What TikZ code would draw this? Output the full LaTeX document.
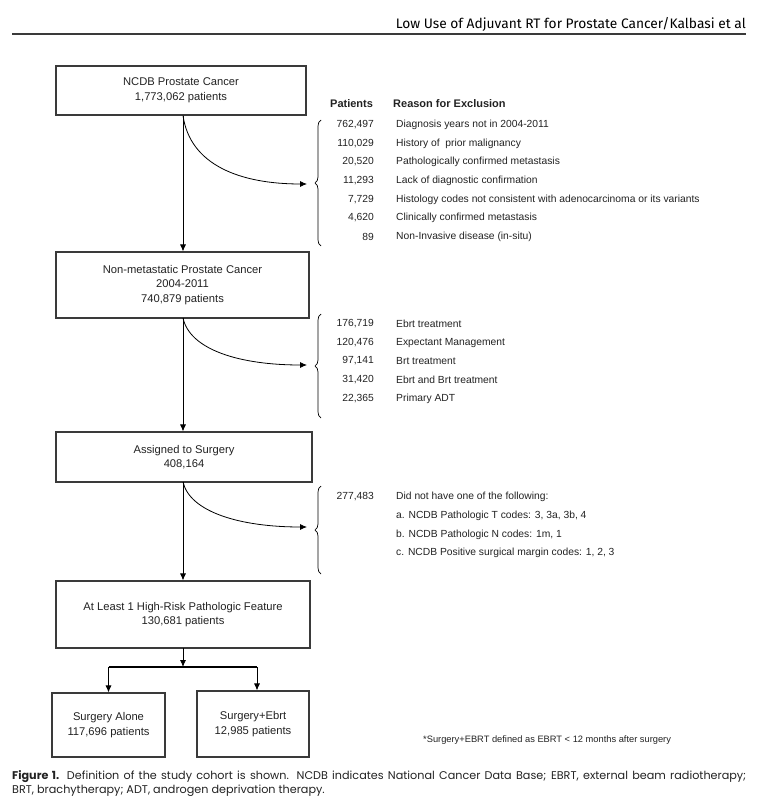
\documentclass[tikz,border=0pt]{standalone}
\usepackage{fontspec}
\setmainfont{Liberation Sans}
\newfontfamily\headfont{Fira Sans}
\newfontfamily\capfont{Poppins}
\usetikzlibrary{arrows.meta,decorations.pathreplacing}
\definecolor{ink}{HTML}{222222}
\definecolor{edge}{HTML}{3A3A3A}
\begin{document}
\begin{tikzpicture}[x=1pt,y=-1pt,
  box/.style={draw=edge,line width=1.1pt,align=center,text=ink,font=\fontsize{11.2}{14.5}\selectfont,inner sep=0pt},
  arr/.style={draw=black,line width=0.8pt,-{Latex[length=7pt,width=6pt]}},
  brc/.style={draw=black,line width=0.7pt,decorate,decoration={brace,amplitude=6pt}},
  num/.style={anchor=east,text=ink,font=\fontsize{10.3}{12}\selectfont,inner sep=0pt},
  rsn/.style={anchor=west,text=ink,font=\fontsize{10.3}{12}\selectfont,inner sep=0pt},
  hdr/.style={anchor=base west,text=ink,font=\bfseries\fontsize{11}{12}\selectfont,inner sep=0pt}]
\useasboundingbox (0,0) rectangle (762,808);
% header
\node[anchor=base east,inner sep=0pt,text=black] (title) at (746,29) {\resizebox{350pt}{!}{\headfont\fontsize{12}{13}\selectfont Low Use of Adjuvant RT for Prostate Cancer/Kalbasi et al}};
\coordinate (rl) at (12,34);
\coordinate (rr) at (746,34);
\draw[line width=2pt,color=edge] (rl) -- (rr);
% boxes
\node[box,minimum width=250pt,minimum height=49pt] (b1) at (181,90.5) {NCDB Prostate Cancer\\1,773,062 patients};
\node[box,minimum width=253pt,minimum height=66pt] (b2) at (182.5,285) {Non-metastatic Prostate Cancer\\2004-2011\\740,879 patients};
\node[box,minimum width=256pt,minimum height=50pt] (b3) at (184,457) {Assigned to Surgery\\408,164};
\node[box,minimum width=254pt,minimum height=67pt] (b4) at (183,614.5) {At Least 1 High-Risk Pathologic Feature\\130,681 patients};
\node[box,minimum width=113pt,minimum height=64pt] (b5) at (108.5,725) {Surgery Alone\\117,696 patients};
\node[box,minimum width=112pt,minimum height=66pt] (b6) at (253,724) {Surgery+Ebrt\\12,985 patients};
% main arrows
\coordinate (s1) at (183,115.5);
\coordinate (s2) at (183,318);
\coordinate (s3) at (183,482);
\coordinate (s4) at (183,648);
\draw[arr] (s1) -- (s1 |- b2.north);
\draw[arr] (s2) -- (s2 |- b3.north);
\draw[arr] (s3) -- (s3 |- b4.north);
\coordinate (j) at (183,667);
\coordinate (jl) at (108.5,667);
\coordinate (jr) at (257,667);
\draw[arr] (s4) -- (j);
\draw[line width=1.1pt] (jl) -- (jr);
\draw[arr] (jl) -- (jl |- b5.north);
\draw[arr] (jr) -- (jr |- b6.north);
% braces
\coordinate (t1) at (307,184);
\coordinate (t2) at (307,365);
\coordinate (t3) at (307,527);
\draw[brc] (321,246) -- (321,120);
\draw[brc] (321,418) -- (321,314);
\draw[brc] (321,574) -- (321,486);
\draw[arr] (s1) .. controls (190,165) and (240,184) .. (t1);
\draw[arr] (s2) .. controls (190,350) and (240,365) .. (t2);
\draw[arr] (s3) .. controls (190,512) and (240,527) .. (t3);
% exclusion table 1
\node[hdr] (hp) at (330,107) {Patients};
\node[hdr] (hr) at (393,107) {Reason for Exclusion};
\node[num] (n11) at (374,125) {762,497};
\node[num] (n12) at (374,144) {110,029};
\node[num] (n13) at (374,162) {20,520};
\node[num] (n14) at (374,181) {11,293};
\node[num] (n15) at (374,200) {7,729};
\node[num] (n16) at (374,218) {4,620};
\node[num] (n17) at (374,237) {89};
\node[rsn] (r11) at (396,125) {Diagnosis years not in 2004-2011};
\node[rsn] (r12) at (396,144) {History of\ \ prior malignancy};
\node[rsn] (r13) at (396,162) {Pathologically confirmed metastasis};
\node[rsn] (r14) at (396,181) {Lack of diagnostic confirmation};
\node[rsn] (r15) at (396,200) {Histology codes not consistent with adenocarcinoma or its variants};
\node[rsn] (r16) at (396,218) {Clinically confirmed metastasis};
\node[rsn] (r17) at (396,237) {Non-Invasive disease (in-situ)};
% table 2
\node[num] (n21) at (374,324) {176,719};
\node[num] (n22) at (374,343) {120,476};
\node[num] (n23) at (374,361) {97,141};
\node[num] (n24) at (374,380) {31,420};
\node[num] (n25) at (374,399) {22,365};
\node[rsn] (r21) at (396,324) {Ebrt treatment};
\node[rsn] (r22) at (396,343) {Expectant Management};
\node[rsn] (r23) at (396,361) {Brt treatment};
\node[rsn] (r24) at (396,380) {Ebrt and Brt treatment};
\node[rsn] (r25) at (396,399) {Primary ADT};
% table 3
\node[num] (n31) at (374,497) {277,483};
\node[rsn] (r31) at (396,497) {Did not have one of the following:};
\node[rsn] (r32) at (396,516) {a. NCDB Pathologic T codes: 3, 3a, 3b, 4};
\node[rsn] (r33) at (396,535) {b. NCDB Pathologic N codes: 1m, 1};
\node[rsn] (r34) at (396,553) {c. NCDB Positive surgical margin codes: 1, 2, 3};
% footnote
\node[anchor=west,inner sep=0pt,text=ink,font=\fontsize{9.3}{11}\selectfont] (fn) at (423,740) {*Surgery+EBRT defined as EBRT < 12 months after surgery};
% caption
\node[anchor=north west,inner sep=0pt,text=ink,font=\capfont\fontsize{11.2}{14}\selectfont] (cap) at (12,770) {\parbox[t]{734pt}{\textbf{Figure 1.} Definition of the study cohort is shown. NCDB indicates National Cancer Data Base; EBRT, external beam radiotherapy;\linebreak BRT, brachytherapy; ADT, androgen deprivation therapy.}};
\end{tikzpicture}
\end{document}
